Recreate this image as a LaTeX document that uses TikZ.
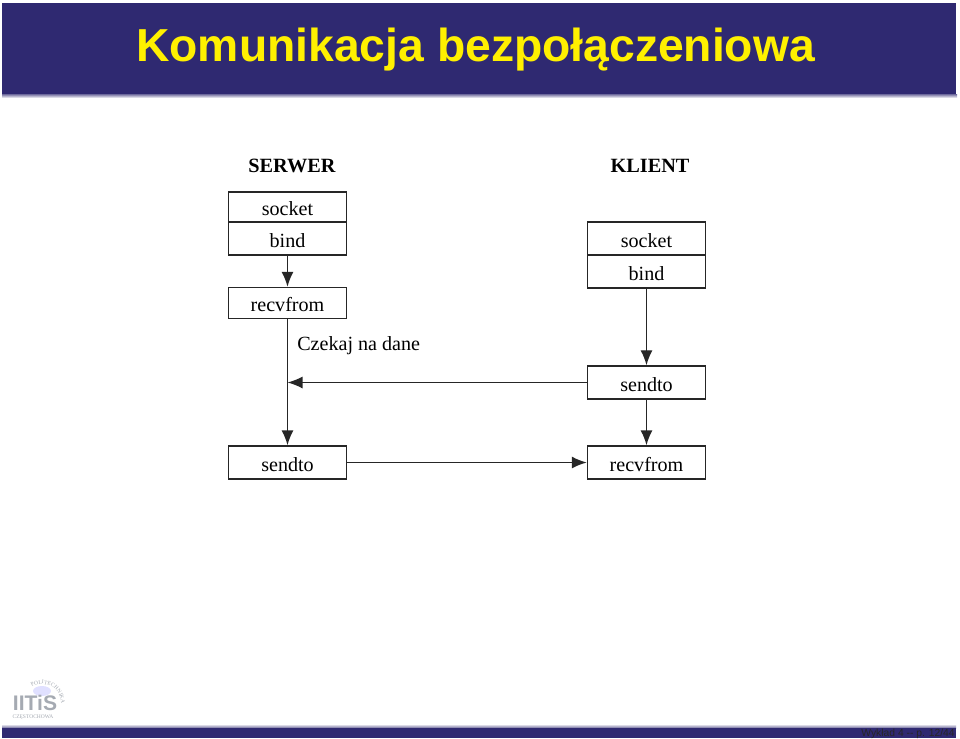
\documentclass[tikz,border=0pt]{standalone}
\usepackage{fontspec}
\setmainfont{Liberation Serif}
\newfontfamily\titlefont{Liberation Sans}
\usetikzlibrary{arrows.meta,decorations.text}
\definecolor{barblue}{RGB}{47,41,113}
\definecolor{titleyellow}{RGB}{255,240,0}
\definecolor{logogrey}{RGB}{165,170,178}
\newcommand{\pxu}{*0.7113pt}
\tikzset{
	box/.style={draw=black!85, line width=1pt, minimum width=118\pxu, inner sep=0pt, text height=12.2pt, text depth=0pt, font=\fontsize{14.3}{14.3}\selectfont},
	flow/.style={draw=black!85, line width=1pt, -{Latex[length=15\pxu,width=12\pxu]}},
	head/.style={font=\fontsize{14.4}{14.4}\selectfont\bfseries},
	logotext/.style={inner sep=0pt, text=logogrey},
}
\begin{document}
\begin{tikzpicture}[x=0.025cm,y=-0.025cm]
	\useasboundingbox (0,0) rectangle (960,738);
	% title bar
	\shade[top color=barblue!70, bottom color=white] (2,94) rectangle (957,98);
	\fill[barblue] (2,3) rectangle (956,94);
	\node[anchor=base west, inner sep=0pt, text=titleyellow] (title) at (136,61) {\titlefont\bfseries\fontsize{32.9}{32.9}\selectfont Komunikacja bezpołączeniowa};
	% footer
	\shade[top color=white, bottom color=barblue!70] (2,724) rectangle (956,728);
	\fill[barblue] (2,728) rectangle (956,738);
	\node[anchor=base east, inner sep=0pt, text=black!85] (page) at (955,736) {\titlefont\fontsize{7.35}{7.35}\selectfont Wykład 4 -- p. 12/44};
	% logo
	\fill[blue!12!white] (42,691) ellipse (9 and 5);
	\node[logotext] (logo) at (35,703) {\titlefont\bfseries\fontsize{15}{15}\selectfont IITiS};
	\path[decorate, decoration={text along path, text align=center, text={|\color{logogrey}\fontsize{4}{4}\selectfont|POLITECHNIKA}}] (42,703) ++(-140:19) arc[start angle=-140, end angle=20, radius=19];
	\node[logotext] (city) at (33,717) {\fontsize{3.9}{3.9}\selectfont CZĘSTOCHOWA};
	% serwer
	\node[head] (serwer) at (292,166) {SERWER};
	\node[box, minimum height=30\pxu] (ssocket) at (287.5,207) {socket};
	\node[box, minimum height=33\pxu] (sbind) at (287.5,238.5) {bind};
	\node[box, minimum height=31\pxu] (srecv) at (287.5,303) {recvfrom};
	\node[box, minimum height=33\pxu] (ssend) at (287.5,462.5) {sendto};
	% klient
	\node[head] (klient) at (650,166) {KLIENT};
	\node[box, minimum height=33\pxu] (ksocket) at (646.5,238.5) {socket};
	\node[box, minimum height=33\pxu] (kbind) at (646.5,271.5) {bind};
	\node[box, minimum height=33\pxu] (ksend) at (646.5,382.5) {sendto};
	\node[box, minimum height=33\pxu] (krecv) at (646.5,462.5) {recvfrom};
	\node[anchor=west, inner sep=0pt, font=\fontsize{14.3}{14.3}\selectfont] (czekaj) at (297,346) {Czekaj na dane};
	% polaczenia
	\draw[flow] (sbind) -- (srecv);
	\draw[flow] (srecv) -- (ssend);
	\draw[flow] (kbind) -- (ksend);
	\draw[flow] (ksend) -- (krecv);
	\draw[flow] (ksend.west) -- (ksend.west -| srecv);
	\draw[flow] (ssend) -- (krecv);
\end{tikzpicture}
\end{document}
